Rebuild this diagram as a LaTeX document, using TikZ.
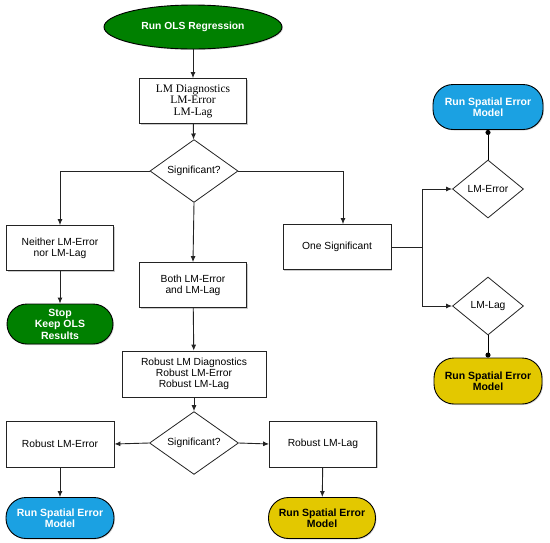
\documentclass[tikz,border=0pt]{standalone}
\usepackage{fontspec}
\setmainfont{Liberation Sans}
\newfontfamily\serifface{Liberation Serif}
\usetikzlibrary{arrows.meta,positioning,calc,shapes.geometric,shadows}
\definecolor{cgreen}{RGB}{0,128,0}
\definecolor{cblue}{RGB}{27,161,226}
\definecolor{cyellow}{RGB}{227,200,0}
\definecolor{cline}{RGB}{35,35,35}

\begin{document}
\begin{tikzpicture}[
  x=1pt,y=-1pt,
  font=\fontsize{10.3}{11.2}\selectfont,
  >={Latex[length=6pt,width=5pt]},
  box/.style={draw=cline,line width=0.8pt,fill=white,minimum width=107pt,minimum height=45pt,align=center,inner sep=2pt,
    drop shadow={shadow xshift=1.2pt,shadow yshift=-1.2pt,fill=black!45,opacity=0.45}},
  decision/.style={diamond,draw=cline,line width=0.8pt,fill=white,inner sep=0pt,align=center},
  terminal/.style={draw=black,line width=0.9pt,rounded corners=20pt,minimum width=108pt,minimum height=44pt,
    align=center,inner sep=1pt,font=\fontsize{10.5}{11.5}\selectfont\bfseries,
    drop shadow={shadow xshift=1pt,shadow yshift=-1pt,fill=black!40,opacity=0.4}},
  arrow/.style={->,draw=cline,line width=0.9pt},
  dotline/.style={-{Circle[length=5pt]},draw=black,line width=0.9pt}
]
  \useasboundingbox (0,0) rectangle (550,542);

  % top part
  \node[ellipse,draw=black,line width=0.9pt,fill=cgreen,text=white,minimum width=178pt,minimum height=44pt,
        font=\fontsize{10.3}{11}\selectfont\bfseries,
        drop shadow={shadow xshift=1pt,shadow yshift=-1pt,fill=black!40,opacity=0.4}] (ols) at (193,27)
    {Run OLS Regression};
  \node[box,font=\serifface\fontsize{11.5}{11.5}\selectfont] (lmdiag) at (193,101)
    {LM Diagnostics\\LM-Error\\LM-Lag};
  \node[decision,minimum width=88pt,minimum height=50pt] (sig) at (194,171) {Significant?};

  \node[box] (neither) at (60,248) {Neither LM-Error\\nor LM-Lag};
  \node[terminal,fill=cgreen,text=white,minimum width=106pt,minimum height=40pt] (stop) at (60,324)
    {Stop\\Keep OLS\\Results};
  \node[box] (both) at (193,285) {Both LM-Error\\and LM-Lag};
  \node[box,minimum width=108pt] (onesig) at (337,247) {One Significant};

  % right column
  \node[decision,minimum width=71pt,minimum height=58pt] (lmerr) at (488,189) {LM-Error};
  \node[decision,minimum width=71pt,minimum height=58pt] (lmlag) at (488,306) {LM-Lag};
  \node[terminal,fill=cblue,text=white,minimum width=110pt,minimum height=45pt] (semtop) at (488,107)
    {Run Spatial Error\\Model};
  \node[terminal,fill=cyellow,minimum width=108pt,minimum height=46pt] (slmright) at (488,381)
    {Run Spatial Error\\Model};

  % robust tests
  \node[box,minimum width=144pt,minimum height=46pt] (robust) at (194,374)
    {Robust LM Diagnostics\\Robust LM-Error\\Robust LM-Lag};
  \node[decision,minimum width=89pt,minimum height=45pt] (sig2) at (194,443) {Significant?};
  \node[box,minimum width=108pt,minimum height=46pt] (rerr) at (60,444) {Robust LM-Error};
  \node[box,minimum width=107pt,minimum height=46pt] (rlag) at (323,444) {Robust LM-Lag};
  \node[terminal,fill=cblue,text=white,minimum height=41pt] (sembot) at (60,518)
    {Run Spatial Error\\Model};
  \node[terminal,fill=cyellow,minimum width=107pt,minimum height=41pt] (slmbot) at (322,518)
    {Run Spatial Error\\Model};

  % connectors
  \draw[arrow] (ols) -- (lmdiag);
  \draw[arrow] (lmdiag) -- (sig);
  \draw[arrow] (sig.west) -| (neither.north);
  \draw[arrow] (sig.south) -- (both.north);
  \draw[arrow] (sig.east) -| ($(onesig.north)+(6,0)$);
  \draw[arrow] (neither) -- (stop);
  \draw[arrow] (both) -- (robust);

  \coordinate (fork) at (422,247);
  \draw[cline,line width=0.9pt] (onesig.east) -- (fork);
  \draw[arrow] (fork) |- (lmerr.west);
  \draw[arrow] (fork) |- (lmlag.west);
  \draw[dotline] (lmerr.north) -- (semtop.south);
  \draw[dotline] (lmlag.south) -- (slmright.north);

  \draw[arrow] (robust) -- (sig2);
  \draw[arrow] (sig2.west) -- (rerr.east);
  \draw[arrow] (sig2.east) -- (rlag.west);
  \draw[arrow] (rerr) -- (sembot);
  \draw[arrow] (rlag) -- (slmbot);
\end{tikzpicture}
\end{document}
